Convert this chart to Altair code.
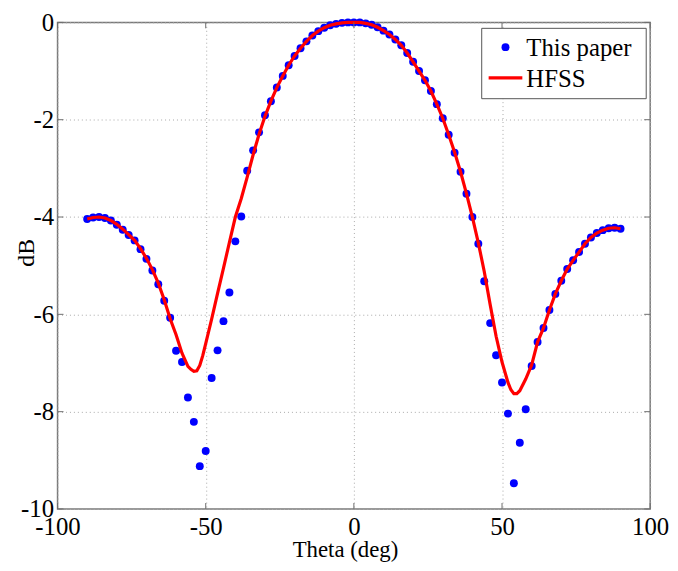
import altair as alt
import pandas as pd

# ---- data ----
theta_pts = [-90, -88, -86, -84, -82, -80, -78, -76, -74, -72, -70, -68, -66, -64, -62, -60,
             -58, -56, -54, -52, -50, -48, -46, -44, -42, -40, -38, -36, -34, -32, -30, -28,
             -26, -24, -22, -20, -18, -16, -14, -12, -10, -8, -6, -4, -2, 0, 2, 4, 6, 8, 10,
             12, 14, 16, 18, 20, 22, 24, 26, 28, 30, 32, 34, 36, 38, 40, 42, 44, 46, 48, 50,
             52, 54, 56, 58, 60, 62, 64, 66, 68, 70, 72, 74, 76, 78, 80, 82, 84, 86, 88, 90]
db_pts = [-4.04, -4.01, -4.00, -4.02, -4.07, -4.16, -4.26, -4.37, -4.48, -4.66, -4.86, -5.10,
          -5.38, -5.72, -6.07, -6.75, -6.98, -7.71, -8.21, -9.12, -8.81, -7.31, -6.74, -6.14,
          -5.55, -4.50, -3.99, -3.05, -2.63, -2.26, -1.91, -1.62, -1.34, -1.10, -0.88, -0.69,
          -0.53, -0.39, -0.27, -0.18, -0.11, -0.06, -0.03, -0.01, 0.00, 0.00, 0.00, -0.02,
          -0.05, -0.10, -0.17, -0.25, -0.35, -0.47, -0.63, -0.81, -1.00, -1.19, -1.41, -1.68,
          -1.97, -2.31, -2.68, -3.07, -3.52, -4.00, -4.55, -5.32, -6.18, -6.84, -7.40, -8.04,
          -9.47, -8.64, -7.95, -7.06, -6.57, -6.28, -5.91, -5.58, -5.31, -5.07, -4.89, -4.72,
          -4.55, -4.42, -4.33, -4.27, -4.23, -4.22, -4.24]

theta_hfss = [-90, -88, -86, -84, -82, -80, -78, -76, -74, -72, -70, -68, -66, -64, -62, -60,
              -58, -56, -55, -54, -53, -52, -51, -50, -48, -46, -44, -42, -40, -38, -36, -34,
              -32, -30, -28, -26, -24, -22, -20, -18, -16, -14, -12, -10, -8, -6, -4, -2, 0,
              2, 4, 6, 8, 10, 12, 14, 16, 18, 20, 22, 24, 26, 28, 30, 32, 34, 36, 38, 40, 42,
              44, 46, 48, 50, 52, 53, 54, 55, 56, 58, 60, 62, 64, 66, 68, 70, 72, 74, 76, 78,
              80, 82, 84, 86, 88, 90]
db_hfss = [-4.04, -4.01, -4.00, -4.02, -4.07, -4.15, -4.25, -4.36, -4.48, -4.65, -4.85, -5.08,
           -5.36, -5.70, -6.09, -6.42, -6.80, -7.07, -7.13, -7.17, -7.16, -7.05, -6.85, -6.60,
           -6.10, -5.57, -5.05, -4.52, -4.00, -3.62, -3.18, -2.72, -2.30, -1.93, -1.62, -1.34,
           -1.10, -0.88, -0.69, -0.53, -0.39, -0.27, -0.18, -0.11, -0.06, -0.03, -0.01, 0.00,
           0.00, 0.00, -0.02, -0.05, -0.10, -0.17, -0.25, -0.35, -0.47, -0.63, -0.81, -1.00,
           -1.19, -1.41, -1.68, -1.97, -2.31, -2.67, -3.07, -3.52, -4.00, -4.53, -5.12, -5.80,
           -6.45, -6.98, -7.40, -7.55, -7.63, -7.63, -7.57, -7.33, -7.04, -6.57, -6.28, -5.91,
           -5.58, -5.31, -5.07, -4.89, -4.72, -4.55, -4.42, -4.33, -4.27, -4.23, -4.22, -4.24]

x_ticks = [-100, -50, 0, 50, 100]
y_ticks = [0, -2, -4, -6, -8, -10]
legend_labels = ["This paper", "HFSS"]

W, H = 598, 491
FONT = "Liberation Serif"

pts = pd.DataFrame({"theta": theta_pts, "db": db_pts})
hfss = pd.DataFrame({"theta": theta_hfss, "db": db_hfss})
xt = pd.DataFrame({"t": x_ticks})
yt = pd.DataFrame({"t": y_ticks})
one = pd.DataFrame({"a": [0]})

xscale = alt.Scale(domain=[-100, 100], nice=False, zero=False)
yscale = alt.Scale(domain=[-10, 0], nice=False, zero=False)

xaxis = alt.Axis(values=x_ticks, title="Theta (deg)", grid=True, gridDash=[1, 3],
                 gridColor="#a8a8a8", gridWidth=1, domain=False, ticks=False,
                 labelExpr="'' + datum.value",
                 labelFont=FONT, labelFontSize=25, labelColor="black", labelPadding=6,
                 labelFlush=False, labelOverlap=False,
                 titleFont=FONT, titleFontSize=23, titleFontWeight="normal", titleColor="black",
                 titleX=290, titleY=48, titleAlign="center", titleBaseline="alphabetic")
yaxis = alt.Axis(values=y_ticks, title="dB", grid=True, gridDash=[1, 3],
                 gridColor="#a8a8a8", gridWidth=1, domain=False, ticks=False,
                 labelExpr="'' + datum.value",
                 labelFont=FONT, labelFontSize=25, labelColor="black", labelPadding=4,
                 labelFlush=False, labelOverlap=False,
                 titleFont=FONT, titleFontSize=24, titleFontWeight="normal", titleColor="black",
                 titleX=-31, titleY=232, titleAngle=270, titleAlign="center",
                 titleBaseline="middle")

points = alt.Chart(pts).mark_circle(size=64, color="#0000ff", opacity=1).encode(
    x=alt.X("theta:Q", scale=xscale, axis=xaxis),
    y=alt.Y("db:Q", scale=yscale, axis=yaxis),
)
line = alt.Chart(hfss).mark_line(color="#ff0000", strokeWidth=3.2).encode(
    x=alt.X("theta:Q", scale=xscale),
    y=alt.Y("db:Q", scale=yscale),
)

TICK = "#6e6e6e"
tick_bottom = alt.Chart(xt).mark_rule(color=TICK, strokeWidth=1).encode(
    x=alt.X("t:Q", scale=xscale), y=alt.value(H), y2=alt.value(H - 6))
tick_top = alt.Chart(xt).mark_rule(color=TICK, strokeWidth=1).encode(
    x=alt.X("t:Q", scale=xscale), y=alt.value(0), y2=alt.value(6))
tick_left = alt.Chart(yt).mark_rule(color=TICK, strokeWidth=1).encode(
    y=alt.Y("t:Q", scale=yscale), x=alt.value(0), x2=alt.value(6))
tick_right = alt.Chart(yt).mark_rule(color=TICK, strokeWidth=1).encode(
    y=alt.Y("t:Q", scale=yscale), x=alt.value(W - 6), x2=alt.value(W))

leg_box = alt.Chart(one).mark_rect(fill="white", stroke="#555555", strokeWidth=1).encode(
    x=alt.value(428), x2=alt.value(594), y=alt.value(6), y2=alt.value(77))
leg_pt = alt.Chart(one).mark_circle(size=64, color="#0000ff", opacity=1).encode(
    x=alt.value(452), y=alt.value(25))
leg_ln = alt.Chart(one).mark_rule(color="#ff0000", strokeWidth=3.2).encode(
    x=alt.value(435), x2=alt.value(469), y=alt.value(56))
leg_t1 = alt.Chart(one).mark_text(align="left", baseline="middle", font=FONT, fontSize=25,
                                  color="black").encode(
    x=alt.value(473), y=alt.value(26), text=alt.value(legend_labels[0]))
leg_t2 = alt.Chart(one).mark_text(align="left", baseline="middle", font=FONT, fontSize=25,
                                  color="black").encode(
    x=alt.value(473), y=alt.value(57), text=alt.value(legend_labels[1]))

chart = alt.layer(
    points, line, tick_bottom, tick_top, tick_left, tick_right,
    leg_box, leg_pt, leg_ln, leg_t1, leg_t2
).properties(
    width=W, height=H,
    autosize=alt.AutoSizeParams(type="none"),
    padding={"left": 50, "top": 12, "right": 20, "bottom": 52},
    background="white",
).configure_view(
    stroke="#7a7a7a", strokeWidth=1.5
)

chart.save("out.html", embed_options={"renderer": "svg", "actions": False})
